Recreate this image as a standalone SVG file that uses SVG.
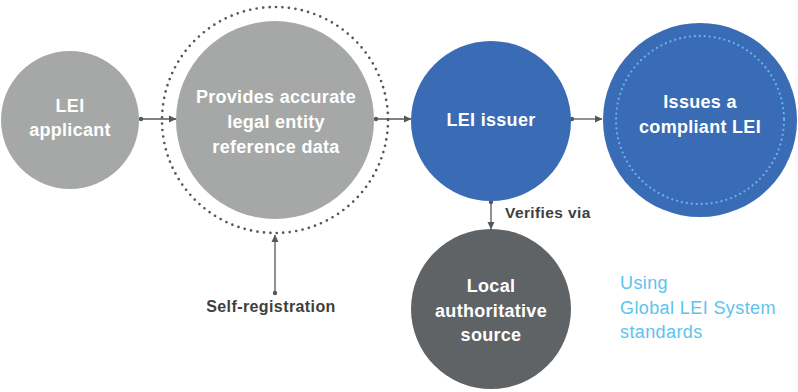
<svg xmlns="http://www.w3.org/2000/svg" width="798" height="392" viewBox="0 0 798 392">
<defs>
<style>
.node text{font-family:"Liberation Sans",Arial,sans-serif;font-weight:bold;font-size:18px;fill:#ffffff;text-anchor:middle;letter-spacing:0.3px}
.lbl{font-family:"Liberation Sans",Arial,sans-serif;font-weight:bold;font-size:15.5px;fill:#3d3f41;letter-spacing:0.4px}
.note{font-family:"Liberation Sans",Arial,sans-serif;font-size:18px;fill:#5cc3ef;letter-spacing:0.4px}
.conn line{stroke:#555759;stroke-width:1.3}
</style>
<marker id="ah" markerWidth="8" markerHeight="8" refX="7" refY="4" orient="auto" markerUnits="userSpaceOnUse">
<path d="M0,0.5 L7.5,4 L0,7.5 Z" fill="#555759"/>
</marker>
<marker id="dot" markerWidth="6" markerHeight="6" refX="3" refY="3" markerUnits="userSpaceOnUse">
<circle cx="3" cy="3" r="2.2" fill="#555759"/>
</marker>
</defs>
<rect width="798" height="392" fill="#ffffff"/>
<g class="conn">
<line x1="141" y1="119" x2="176" y2="119" marker-start="url(#dot)" marker-end="url(#ah)"/>
<line x1="376" y1="119" x2="411" y2="119" marker-start="url(#dot)" marker-end="url(#ah)"/>
<line x1="572" y1="119" x2="602" y2="119" marker-start="url(#dot)" marker-end="url(#ah)"/>
<line x1="491" y1="202" x2="491" y2="229" marker-start="url(#dot)" marker-end="url(#ah)"/>
<line x1="275" y1="293" x2="275" y2="235" marker-start="url(#dot)" marker-end="url(#ah)"/>
</g>
<g id="applicant" class="node">
<circle cx="70" cy="120" r="69" fill="#a6a8a8"/>
<text x="70" y="112">LEI</text>
<text x="70" y="136">applicant</text>
</g>
<g id="provides" class="node">
<circle cx="275" cy="120" r="113" fill="none" stroke="#55585a" stroke-width="2.7" stroke-dasharray="0 6.5" stroke-linecap="round"/>
<circle cx="275" cy="120" r="99" fill="#a6a8a8"/>
<text x="276" y="103">Provides accurate</text>
<text x="276" y="128">legal entity</text>
<text x="276" y="153">reference data</text>
</g>
<g id="issuer" class="node">
<circle cx="491" cy="121" r="80" fill="#3a6cb5"/>
<text x="491" y="126">LEI issuer</text>
</g>
<g id="compliant" class="node">
<circle cx="700" cy="120" r="97" fill="#3a6cb5"/>
<circle cx="700" cy="120" r="84" fill="none" stroke="#62b4ee" stroke-width="2.3" stroke-dasharray="0 5" stroke-linecap="round"/>
<text x="700" y="108">Issues a</text>
<text x="700" y="133">compliant LEI</text>
</g>
<g id="local" class="node">
<circle cx="491" cy="309" r="80" fill="#5f6366"/>
<text x="491" y="292">Local</text>
<text x="491" y="317">authoritative</text>
<text x="491" y="341">source</text>
</g>
<g id="labels">
<text class="lbl" x="505" y="218">Verifies via</text>
<text class="lbl" x="271" y="312" text-anchor="middle" style="font-size:16px">Self-registration</text>
</g>
<g id="note">
<text class="note" x="620" y="289">Using</text>
<text class="note" x="620" y="314">Global LEI System</text>
<text class="note" x="620" y="338">standards</text>
</g>
</svg>
